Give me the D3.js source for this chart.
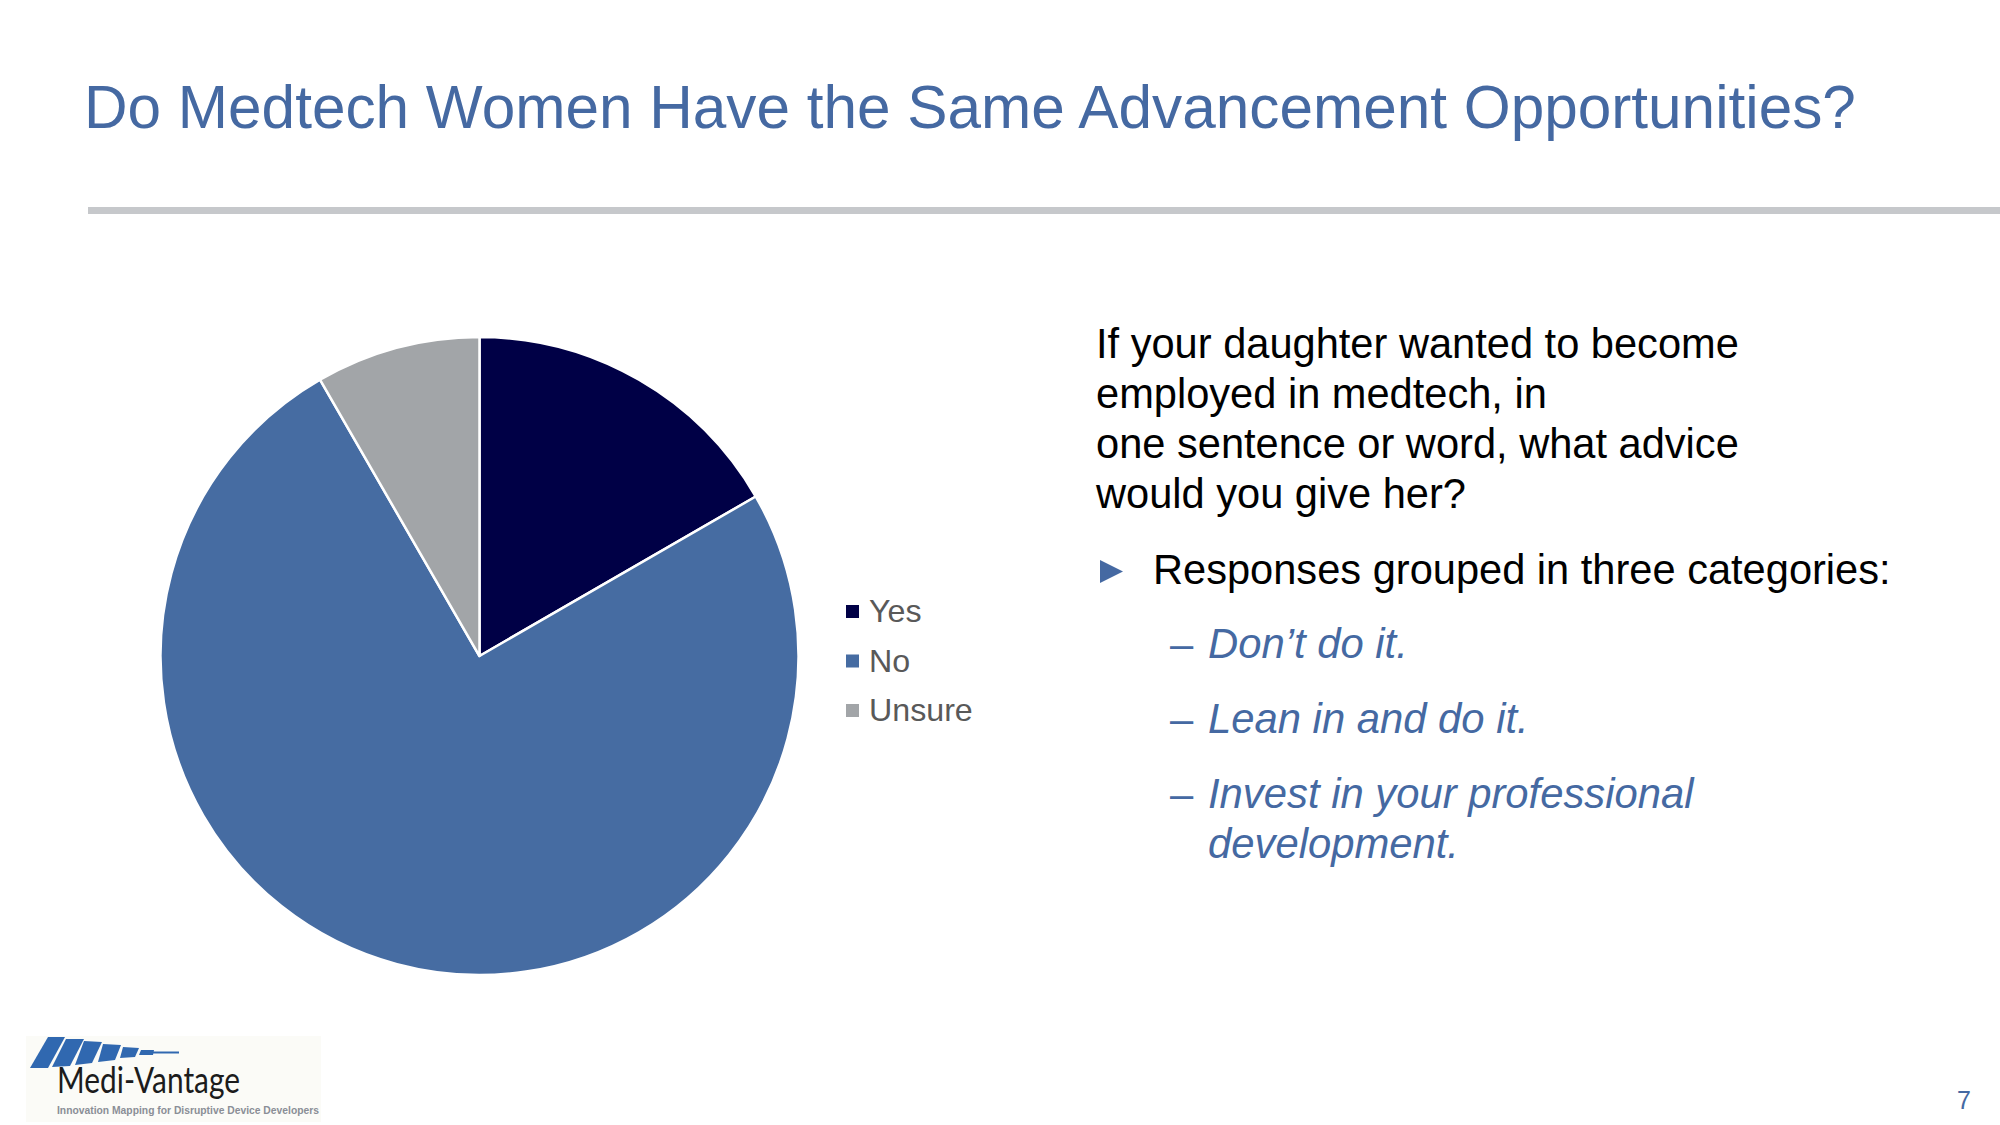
<!DOCTYPE html>
<html>
<head>
<meta charset="utf-8">
<script src="https://cdn.jsdelivr.net/npm/d3@7"></script>
<style>
  html, body { margin: 0; padding: 0; background: #ffffff; }
  svg { display: block; font-family: "Liberation Sans", Arial, sans-serif; }
</style>
</head>
<body>
<svg id="chart" width="2000" height="1125"></svg>
<script>
// ---- data ----
const categories = ["Yes", "No", "Unsure"];
const values = [2, 9, 1];
const colors = ["#000046", "#466ca2", "#a2a5a8"];
const titleText = "Do Medtech Women Have the Same Advancement Opportunities?";
const questionLines = ["If your daughter wanted to become", "employed in medtech, in", "one sentence or word, what advice", "would you give her?"];
const bulletText = "Responses grouped in three categories:";
const subItems = [["Don\u2019t do it."], ["Lean in and do it."], ["Invest in your professional", "development."]];
const pageNumber = "7";

const svg = d3.select("#chart");

// title
svg.append("text")
  .attr("x", 84).attr("y", 128)
  .attr("font-size", 60.3)
  .attr("fill", "#4569a2")
  .text(titleText);

// rule
svg.append("rect")
  .attr("x", 88).attr("y", 207).attr("width", 1912).attr("height", 7)
  .attr("fill", "#c6c8cb");

// pie
const cx = 479.5, cy = 656, R = 319;
const pie = d3.pie().sort(null).value(d => d.v);
const arc = d3.arc().innerRadius(0).outerRadius(R);
const data = categories.map((c, i) => ({ c, v: values[i], col: colors[i] }));
svg.append("g").attr("transform", `translate(${cx},${cy})`)
  .selectAll("path").data(pie(data)).join("path")
  .attr("d", arc)
  .attr("fill", d => d.data.col)
  .attr("stroke", "#ffffff")
  .attr("stroke-width", 2.5)
  .attr("stroke-linejoin", "round");

// legend
const legendY = d3.scalePoint().domain(categories).range([622, 721]);
const lg = svg.append("g").selectAll("g").data(data).join("g");
lg.append("rect")
  .attr("x", 846).attr("y", d => legendY(d.c) - 17)
  .attr("width", 13).attr("height", 13)
  .attr("fill", d => d.col);
lg.append("text")
  .attr("x", 869).attr("y", d => legendY(d.c))
  .attr("font-size", 32.2).attr("fill", "#595959")
  .text(d => d.c);

// question
svg.append("g").selectAll("text").data(questionLines).join("text")
  .attr("x", 1096).attr("y", (d, i) => 358 + i * 50)
  .attr("font-size", 41.6).attr("fill", "#000000")
  .text(d => d);

// bullet
svg.append("path")
  .attr("d", "M1100,560 L1123,571.5 L1100,583 Z")
  .attr("fill", "#4569a2");
svg.append("text")
  .attr("x", 1153).attr("y", 583.5)
  .attr("font-size", 41.6).attr("fill", "#000000")
  .text(bulletText);

// sub items
let yy = 658;
const subG = svg.append("g");
subItems.forEach((lines) => {
  subG.append("text").attr("x", 1170).attr("y", yy)
    .attr("font-size", 41.8).attr("fill", "#4569a2").text("\u2013");
  lines.forEach((ln, j) => {
    subG.append("text").attr("x", 1208).attr("y", yy + j * 50)
      .attr("font-size", 41.8).attr("font-style", "italic")
      .attr("fill", "#4569a2").text(ln);
  });
  yy += 75;
});

// page number
svg.append("text")
  .attr("x", 1957).attr("y", 1109)
  .attr("font-size", 25).attr("fill", "#4569a2")
  .text(pageNumber);

// logo
const logo = svg.append("g");
logo.append("rect").attr("x", 26).attr("y", 1036).attr("width", 295).attr("height", 86).attr("fill", "#fbfbf7");
const stripes = [
  [[30,1068],[48,1037],[65,1037],[48,1068]],
  [[52,1067],[66,1039],[84,1039],[70,1066]],
  [[75,1065],[84,1041],[102,1042],[92,1063]],
  [[98,1062],[103,1044],[121,1045],[115,1060]],
  [[120,1058],[123,1047],[139,1048],[135,1057]],
  [[139,1055],[141,1050],[154,1050],[153,1055]]
];
logo.selectAll("polygon").data(stripes).join("polygon")
  .attr("points", d => d.map(p => p.join(",")).join(" "))
  .attr("fill", "#3068b0");
logo.append("line").attr("x1", 153).attr("y1", 1052.5).attr("x2", 179).attr("y2", 1052.5)
  .attr("stroke", "#3068b0").attr("stroke-width", 2);
logo.append("text")
  .attr("x", 57).attr("y", 1093)
  .attr("font-family", "Lato, 'Open Sans', sans-serif")
  .attr("font-size", 37).attr("fill", "#1c1c1c")
  .attr("textLength", 183).attr("lengthAdjust", "spacingAndGlyphs")
  .text("Medi-Vantage");
logo.append("text")
  .attr("x", 57).attr("y", 1114)
  .attr("font-size", 11).attr("font-weight", "bold").attr("fill", "#8a8e96")
  .attr("textLength", 262).attr("lengthAdjust", "spacingAndGlyphs")
  .text("Innovation Mapping for Disruptive Device Developers");
</script>
</body>
</html>
